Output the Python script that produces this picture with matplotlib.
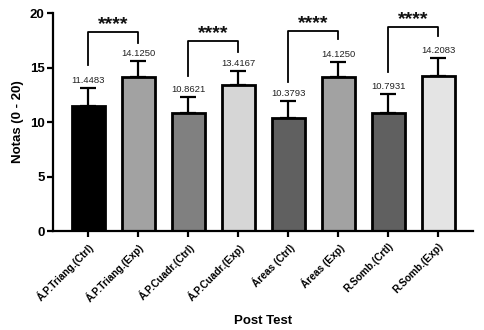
import matplotlib
matplotlib.use("Agg")
import matplotlib.pyplot as plt

plt.rcParams['font.family'] = ['Liberation Sans', 'DejaVu Sans']

categories = ["Á.P.Triang.(Ctrl)", "Á.P.Triang.(Exp)", "Á.P.Cuadr.(Ctrl)", "Á.P.Cuadr.(Exp)",
              "Áreas (Ctrl)", "Áreas (Exp)", "R.Somb.(Crtl)", "R.Somb.(Exp)"]
means = [11.4483, 14.1250, 10.8621, 13.4167, 10.3793, 14.1250, 10.7931, 14.2083]
errors = [1.67, 1.47, 1.43, 1.26, 1.57, 1.35, 1.78, 1.69]
value_labels = ["11.4483", "14.1250", "10.8621", "13.4167", "10.3793", "14.1250", "10.7931", "14.2083"]
colors = ["#000000", "#a2a2a2", "#808080", "#d6d6d6", "#606060", "#a2a2a2", "#606060", "#e4e4e4"]

# significance brackets: (left idx, right idx, top y, left leg bottom, right leg bottom)
brackets = [(0, 1, 18.3, 15.2, 17.3), (2, 3, 17.45, 14.2, 16.4),
            (4, 5, 18.4, 13.7, 17.6), (6, 7, 18.7, 14.6, 17.9)]
sig_label = "****"

fig = plt.figure(figsize=(4.84, 3.30), dpi=100)
ax = fig.add_axes([0.1095, 0.30, 0.868, 0.66])

x = list(range(len(categories)))
ax.bar(x, means, width=0.66, color=colors, edgecolor="black", linewidth=2.0, zorder=2)
ax.errorbar(x, means, yerr=[[0]*len(errors), errors], fmt="none", ecolor="black",
            elinewidth=1.6, capsize=6, capthick=1.6, zorder=1)

for xi, m, e, lab in zip(x, means, errors, value_labels):
    ax.text(xi, m + e + 0.3, lab, ha="center", va="bottom", fontsize=6.8, color="#222222")

for l, r, top, lb, rb in brackets:
    ax.plot([l, l, r, r], [lb, top, top, rb], color="black", linewidth=1.3)
    ax.text((l + r) / 2, top - 0.1, sig_label, ha="center", va="bottom",
            fontsize=14, fontweight="bold", color="#111111")

ax.set_xlim(-0.7, 7.7)
ax.set_ylim(0, 20)
ax.set_yticks([0, 5, 10, 15, 20])
ax.set_xticks(x)
ax.set_xticklabels(categories, rotation=45, ha="right", rotation_mode="anchor",
                   fontsize=7.3, fontweight="bold")
for lbl in ax.get_yticklabels():
    lbl.set_fontweight("bold")
    lbl.set_fontsize(9.5)
ax.spines["top"].set_visible(False)
ax.spines["right"].set_visible(False)
ax.spines["left"].set_linewidth(1.6)
ax.spines["bottom"].set_linewidth(1.6)
ax.tick_params(axis="both", width=1.6, length=4)
ax.tick_params(axis="y", pad=2)
ax.set_ylabel("Notas (0 - 20)", fontsize=9.5, fontweight="bold", labelpad=4)
ax.set_xlabel("Post Test", fontsize=9.5, fontweight="bold", labelpad=8)

fig.savefig("out.png", dpi=100)
